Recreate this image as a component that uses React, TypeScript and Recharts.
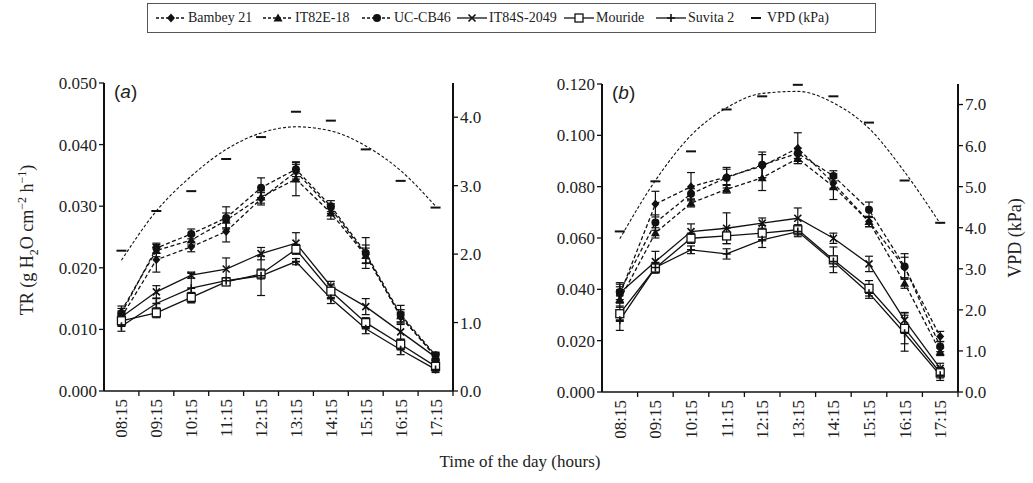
import React from 'react';
import { LineChart, Line, XAxis, YAxis, ErrorBar } from 'recharts';

const times = ['08:15', '09:15', '10:15', '11:15', '12:15', '13:15', '14:15', '15:15', '16:15', '17:15'];

// panel (a)
const bambeyA = [0.0120, 0.0213, 0.0234, 0.0259, 0.0312, 0.0356, 0.0296, 0.0222, 0.0120, 0.0057];
const it82eA = [0.0130, 0.0228, 0.0245, 0.0277, 0.0315, 0.0344, 0.0289, 0.0220, 0.0122, 0.0055];
const ucA = [0.0126, 0.0232, 0.0255, 0.0281, 0.0330, 0.0360, 0.0300, 0.0224, 0.0124, 0.0058];
const it84sA = [0.0120, 0.0161, 0.0188, 0.0198, 0.0223, 0.0240, 0.0170, 0.0137, 0.0096, 0.0055];
const mourideA = [0.0114, 0.0127, 0.0152, 0.0177, 0.0190, 0.0230, 0.0162, 0.0111, 0.0076, 0.0040];
const suvitaA = [0.0105, 0.0142, 0.0167, 0.0179, 0.0187, 0.0210, 0.0150, 0.0101, 0.0067, 0.0035];
const vpdA = [2.05, 2.63, 2.92, 3.39, 3.71, 4.08, 3.95, 3.53, 3.07, 2.68];
const vpdTrendA = [1.91, 2.63, 3.14, 3.53, 3.77, 3.86, 3.80, 3.58, 3.22, 2.70];

const bambeyErrA = [0.0010, 0.0020, 0.0008, 0.0017, 0.0010, 0.0012, 0.0008, 0.0015, 0.0008, 0.0005];
const it82eErrA = [0.0008, 0.0010, 0.0008, 0.0012, 0.0010, 0.0027, 0.0010, 0.0012, 0.0010, 0.0005];
const ucErrA = [0.0008, 0.0008, 0.0008, 0.0018, 0.0016, 0.0012, 0.0009, 0.0025, 0.0015, 0.0005];
const it84sErrA = [0.0008, 0.0010, 0.0005, 0.0018, 0.0010, 0.0017, 0.0008, 0.0013, 0.0012, 0.0005];
const mourideErrA = [0.0008, 0.0008, 0.0008, 0.0005, 0.0008, 0.0008, 0.0010, 0.0008, 0.0008, 0.0008];
const suvitaErrA = [0.0008, 0.0008, 0.0024, 0.0005, 0.0032, 0.0005, 0.0008, 0.0008, 0.0008, 0.0005];

// panel (b)
const bambeyB = [0.0380, 0.0732, 0.0800, 0.0838, 0.0880, 0.0950, 0.0814, 0.0664, 0.0485, 0.0216];
const it82eB = [0.0360, 0.0620, 0.0736, 0.0790, 0.0835, 0.0910, 0.0800, 0.0664, 0.0424, 0.0157];
const ucB = [0.0390, 0.0660, 0.0772, 0.0835, 0.0885, 0.0930, 0.0842, 0.0710, 0.0489, 0.0177];
const it84sB = [0.0386, 0.0508, 0.0625, 0.0638, 0.0658, 0.0677, 0.0599, 0.0499, 0.0280, 0.0092];
const mourideB = [0.0305, 0.0483, 0.0599, 0.0608, 0.0619, 0.0632, 0.0515, 0.0404, 0.0248, 0.0075];
const suvitaB = [0.0280, 0.0485, 0.0554, 0.0538, 0.0593, 0.0625, 0.0508, 0.0385, 0.0229, 0.0065];
const vpdB = [3.91, 5.13, 5.86, 6.88, 7.20, 7.48, 7.20, 6.56, 5.15, 4.12];
const vpdTrendB = [3.73, 5.15, 6.25, 6.92, 7.27, 7.32, 7.04, 6.42, 5.36, 4.10];

const bambeyErrB = [0.003, 0.005, 0.0055, 0.003, 0.0045, 0.006, 0.002, 0.002, 0.004, 0.002];
const it82eErrB = [0.003, 0.002, 0.0015, 0.0015, 0.005, 0.002, 0.005, 0.002, 0.002, 0.0015];
const ucErrB = [0.003, 0.003, 0.002, 0.004, 0.005, 0.002, 0.002, 0.003, 0.005, 0.002];
const it84sErrB = [0.004, 0.004, 0.003, 0.006, 0.002, 0.004, 0.002, 0.003, 0.003, 0.002];
const mourideErrB = [0.003, 0.002, 0.002, 0.003, 0.003, 0.002, 0.005, 0.003, 0.006, 0.002];
const suvitaErrB = [0.004, 0.002, 0.0015, 0.002, 0.003, 0.002, 0.002, 0.002, 0.007, 0.002];

const ticksTrA = [0, 0.01, 0.02, 0.03, 0.04, 0.05];
const ticksVpdA = [0, 1, 2, 3, 4];
const ticksTrB = [0, 0.02, 0.04, 0.06, 0.08, 0.1, 0.12];
const ticksVpdB = [0, 1, 2, 3, 4, 5, 6, 7];

const series = [
  { key: 'bambey', name: 'Bambey 21', shape: 'diamond', dashed: true },
  { key: 'it82e', name: 'IT82E-18', shape: 'triangle', dashed: true },
  { key: 'uc', name: 'UC-CB46', shape: 'circle', dashed: true },
  { key: 'it84s', name: 'IT84S-2049', shape: 'cross', dashed: false },
  { key: 'mouride', name: 'Mouride', shape: 'square', dashed: false },
  { key: 'suvita', name: 'Suvita 2', shape: 'plus', dashed: false },
];

const buildRows = (vals: number[][], errs: number[][], vpd: number[], trend: number[]) =>
  times.map((t, i) => {
    const row: any = { time: t, vpd: vpd[i], trend: trend[i] };
    series.forEach((s, k) => {
      row[s.key] = vals[k][i];
      row[s.key + 'Err'] = errs[k][i];
    });
    return row;
  });

const rowsA = buildRows(
  [bambeyA, it82eA, ucA, it84sA, mourideA, suvitaA],
  [bambeyErrA, it82eErrA, ucErrA, it84sErrA, mourideErrA, suvitaErrA],
  vpdA, vpdTrendA
);
const rowsB = buildRows(
  [bambeyB, it82eB, ucB, it84sB, mourideB, suvitaB],
  [bambeyErrB, it82eErrB, ucErrB, it84sErrB, mourideErrB, suvitaErrB],
  vpdB, vpdTrendB
);

const INK = '#111';
const SERIF = 'Liberation Serif, DejaVu Serif, serif';

const Marker = ({ shape, cx, cy }: { shape: string; cx: number; cy: number }) => {
  if (cx == null || cy == null) return null;
  switch (shape) {
    case 'diamond':
      return <path d={`M${cx},${cy - 4.5}L${cx + 4},${cy}L${cx},${cy + 4.5}L${cx - 4},${cy}Z`} fill={INK} />;
    case 'triangle':
      return <path d={`M${cx},${cy - 4.5}L${cx + 4.5},${cy + 3.5}L${cx - 4.5},${cy + 3.5}Z`} fill={INK} />;
    case 'circle':
      return <circle cx={cx} cy={cy} r={4} fill={INK} />;
    case 'cross':
      return (
        <path
          d={`M${cx - 3.5},${cy - 3.5}L${cx + 3.5},${cy + 3.5}M${cx - 3.5},${cy + 3.5}L${cx + 3.5},${cy - 3.5}`}
          stroke={INK}
          strokeWidth={1.6}
        />
      );
    case 'square':
      return <rect x={cx - 4} y={cy - 4} width={8} height={8} fill="#fff" stroke={INK} strokeWidth={1.3} />;
    case 'plus':
      return <path d={`M${cx},${cy - 4}L${cx},${cy + 4}M${cx - 4},${cy}L${cx + 4},${cy}`} stroke={INK} strokeWidth={1.6} />;
    case 'dash':
      return <line x1={cx - 5} x2={cx + 5} y1={cy} y2={cy} stroke={INK} strokeWidth={2} />;
    default:
      return null;
  }
};

const TimeTick = ({ x, y, payload, half }: any) => (
  <g>
    <line x1={x + half} x2={x + half} y1={y - 5} y2={y} stroke={INK} strokeWidth={1.3} />
    <g transform={`translate(${x},${y + 3}) rotate(-90)`}>
      <text x={0} y={0} dy="0.35em" textAnchor="end" style={{ fontSize: 17, fontFamily: SERIF }} fill="#222">
        {payload.value}
      </text>
    </g>
  </g>
);

const NumTick = ({ x, y, payload, digits, anchor }: any) => (
  <text x={x} y={y} dy="0.35em" textAnchor={anchor} style={{ fontSize: 17, fontFamily: SERIF }} fill="#222">
    {Number(payload.value).toFixed(digits)}
  </text>
);

type PanelProps = {
  rows: any[];
  left: number;
  width: number;
  marginTop: number;
  marginLeft: number;
  trMax: number;
  trTicks: number[];
  vpdMax: number;
  vpdTicks: number[];
};

const Panel = ({ rows, left, width, marginTop, marginLeft, trMax, trTicks, vpdMax, vpdTicks }: PanelProps) => {
  const height = marginTop + 308 + 59;
  const plotW = width - marginLeft - 60 - 37;
  const half = plotW / 20;
  return (
    <div style={{ position: 'absolute', left, top: 60 }}>
      <LineChart width={width} height={height} data={rows} margin={{ top: marginTop, right: 0, bottom: 0, left: marginLeft }}>
        <XAxis
          dataKey="time"
          height={59}
          padding={{ left: half, right: half }}
          tickLine={false}
          tickSize={5}
          tickMargin={0}
          interval={0}
          axisLine={{ stroke: INK, strokeWidth: 1.6 }}
          tick={<TimeTick half={half} />}
        />
        <YAxis
          yAxisId="tr"
          width={60}
          domain={[0, trMax]}
          ticks={trTicks}
          tick={<NumTick digits={3} anchor="end" />}
          tickSize={5}
          tickMargin={2}
          axisLine={{ stroke: INK, strokeWidth: 2 }}
          tickLine={{ stroke: INK, strokeWidth: 1.3 }}
        />
        <YAxis
          yAxisId="vpd"
          orientation="right"
          width={37}
          domain={[0, vpdMax]}
          ticks={vpdTicks}
          tick={<NumTick digits={1} anchor="start" />}
          tickSize={5}
          tickMargin={2}
          axisLine={{ stroke: INK, strokeWidth: 2 }}
          tickLine={{ stroke: INK, strokeWidth: 1.3 }}
        />
        <Line
          yAxisId="vpd"
          dataKey="trend"
          type="monotone"
          stroke={INK}
          strokeWidth={1.1}
          strokeDasharray="3 2"
          dot={false}
          isAnimationActive={false}
        />
        <Line
          yAxisId="vpd"
          dataKey="vpd"
          stroke="none"
          dot={(p: any) => <Marker key={`vpd-${p.index}`} shape="dash" cx={p.cx} cy={p.cy} />}
          isAnimationActive={false}
        />
        {series.map((s) => (
          <Line
            key={s.key}
            yAxisId="tr"
            dataKey={s.key}
            type="linear"
            stroke={INK}
            strokeWidth={1.3}
            strokeDasharray={s.dashed ? '4 2.5' : undefined}
            dot={(p: any) => <Marker key={`${s.key}-${p.index}`} shape={s.shape} cx={p.cx} cy={p.cy} />}
            isAnimationActive={false}
          >
            <ErrorBar dataKey={s.key + 'Err'} width={4} stroke={INK} strokeWidth={1.2} direction="y" />
          </Line>
        ))}
      </LineChart>
    </div>
  );
};

const LegendKey = ({ shape, dashed }: { shape: string; dashed: boolean }) => (
  <svg width={32} height={14} style={{ display: 'block' }}>
    {shape !== 'dash' && (
      <line x1={1} x2={31} y1={7} y2={7} stroke={INK} strokeWidth={1.3} strokeDasharray={dashed ? '3 2' : undefined} />
    )}
    <Marker shape={shape} cx={shape === 'dash' ? 8 : 16} cy={7} />
  </svg>
);

const legendItems = [
  ...series.map((s) => ({ name: s.name, shape: s.shape, dashed: s.dashed })),
  { name: 'VPD (kPa)', shape: 'dash', dashed: false },
];
const legendX = [155, 262, 361, 456, 563, 655, 748];

const App = () => (
  <div style={{ position: 'absolute', left: 0, top: 0, width: 1033, height: 483, background: '#fff', fontFamily: SERIF, color: '#222' }}>
    <div style={{ position: 'absolute', left: 147, top: 3, width: 729, height: 30, border: '1.5px solid #555', boxSizing: 'border-box' }} />
    {legendItems.map((it, i) => (
      <div key={it.name} style={{ position: 'absolute', left: legendX[i], top: 10, display: 'flex', alignItems: 'center', gap: 1, fontSize: 14, lineHeight: '16px' }}>
        <LegendKey shape={it.shape} dashed={it.dashed} />
        <span style={{ marginLeft: it.shape === 'dash' ? -14 : 0 }}>{it.name}</span>
      </div>
    ))}

    <Panel rows={rowsA} left={40} width={450} marginTop={23} marginLeft={4} trMax={0.05} trTicks={ticksTrA} vpdMax={4.5} vpdTicks={ticksVpdA} />
    <Panel rows={rowsB} left={540} width={455} marginTop={24} marginLeft={2} trMax={0.12} trTicks={ticksTrB} vpdMax={7.5} vpdTicks={ticksVpdB} />

    <div style={{ position: 'absolute', left: 114, top: 81, fontFamily: 'Liberation Sans, Arial, sans-serif', fontSize: 19 }}>
      (<i>a</i>)
    </div>
    <div style={{ position: 'absolute', left: 612, top: 82, fontFamily: 'Liberation Sans, Arial, sans-serif', fontSize: 19 }}>
      (<i>b</i>)
    </div>

    <div style={{ position: 'absolute', left: 22 - 150, top: 240 - 12, width: 300, height: 24, textAlign: 'center', transform: 'rotate(-90deg)', fontSize: 18, lineHeight: '24px' }}>
      TR (g H<sub style={{ fontSize: 12 }}>2</sub>O cm<sup style={{ fontSize: 12 }}>−2</sup> h<sup style={{ fontSize: 12 }}>−1</sup>)
    </div>
    <div style={{ position: 'absolute', left: 1015 - 100, top: 238 - 12, width: 200, height: 24, textAlign: 'center', transform: 'rotate(-90deg)', fontSize: 18, lineHeight: '24px' }}>
      VPD (kPa)
    </div>
    <div style={{ position: 'absolute', left: 320, top: 452, width: 400, textAlign: 'center', fontSize: 17 }}>
      Time of the day (hours)
    </div>
  </div>
);

export default App;
